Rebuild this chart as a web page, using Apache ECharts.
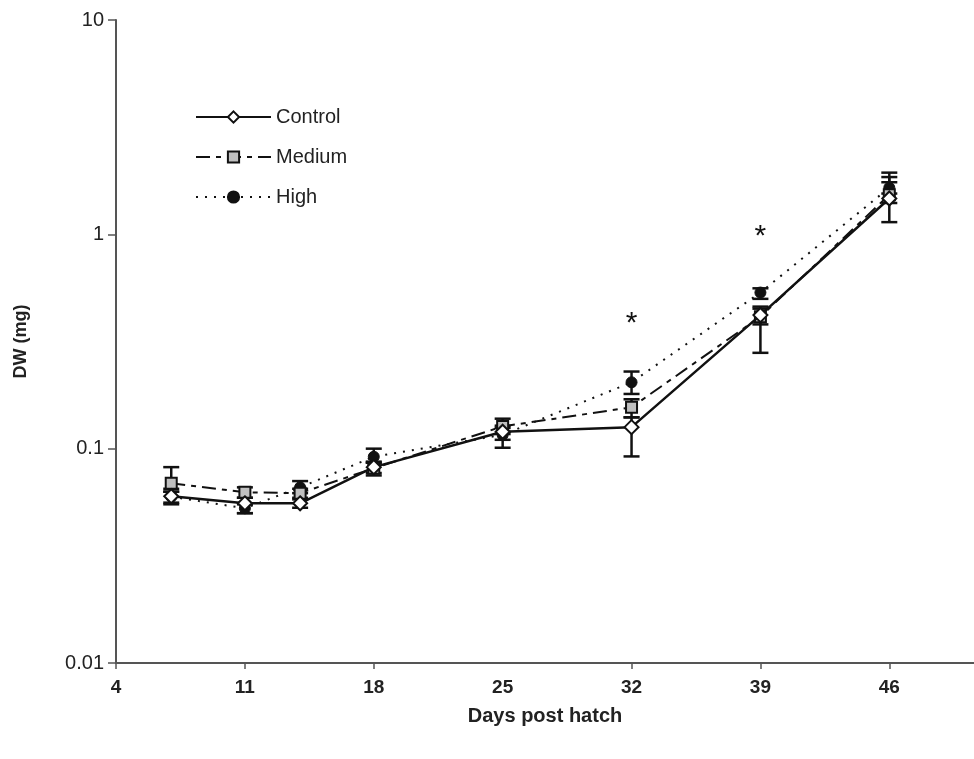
<!DOCTYPE html>
<html>
<head>
<meta charset="utf-8">
<script src="https://cdn.jsdelivr.net/npm/echarts@6/dist/echarts.min.js"></script>
<style>
html,body{margin:0;padding:0;background:#fff;}
#chart{width:974px;height:759px;}
</style>
</head>
<body>
<div id="chart"></div>
<script>
const days = [7, 11, 14, 18, 25, 32, 39, 46];
const xTickLabels = [4, 11, 18, 25, 32, 39, 46];
const xTickMarks = [4, 11, 18, 32, 39, 46];
const yTickLabels = [0.01, 0.1, 1, 10];

const control = [0.060, 0.0556, 0.0556, 0.082, 0.120, 0.126, 0.42, 1.47];
const controlUpper = [0.063, 0.059, 0.058, 0.086, 0.128, 0.14, 0.46, 1.85];
const controlLower = [0.055, 0.050, 0.053, 0.075, 0.101, 0.092, 0.28, 1.14];

const medium = [0.069, 0.0626, 0.062, 0.081, 0.127, 0.156, 0.413, 1.53];
const mediumUpper = [0.082, 0.066, 0.065, 0.086, 0.138, 0.17, 0.45, 1.94];
const mediumLower = [0.065, 0.059, 0.059, 0.077, 0.117, 0.14, 0.38, 1.40];

const high = [0.0597, 0.0527, 0.066, 0.0917, 0.116, 0.204, 0.535, 1.65];
const highUpper = [0.063, 0.055, 0.0706, 0.100, 0.125, 0.229, 0.56, 1.75];
const highLower = [0.056, 0.050, 0.062, 0.087, 0.110, 0.18, 0.50, 1.55];

const starDays = [32, 39];
const starValues = [0.40, 1.02];

const ink = '#111';
const chart = echarts.init(document.getElementById('chart'));

function pairs(vals) { return days.map((d, i) => [d, vals[i]]); }
function errData(lo, hi) { return days.map((d, i) => [d, lo[i], hi[i]]); }
function errSeries(name, lo, hi) {
  return {
    type: 'custom',
    name: name + ' err',
    z: 1,
    silent: true,
    encode: { x: 0, y: [1, 2] },
    data: errData(lo, hi),
    renderItem: function (params, api) {
      const x = api.value(0);
      const a = api.coord([x, api.value(1)]);
      const b = api.coord([x, api.value(2)]);
      const w = 8;
      const st = { stroke: ink, lineWidth: 2.5 };
      return {
        type: 'group',
        children: [
          { type: 'line', shape: { x1: a[0], y1: a[1], x2: b[0], y2: b[1] }, style: st },
          { type: 'line', shape: { x1: a[0] - w, y1: a[1], x2: a[0] + w, y2: a[1] }, style: st },
          { type: 'line', shape: { x1: b[0] - w, y1: b[1], x2: b[0] + w, y2: b[1] }, style: st }
        ]
      };
    }
  };
}

function starSeries() {
  return {
    type: 'custom',
    name: 'stars',
    z: 6,
    silent: true,
    encode: { x: 0, y: 1 },
    data: starDays.map((d, i) => [d, starValues[i]]),
    renderItem: function (params, api) {
      const p = api.coord([api.value(0), api.value(1)]);
      return {
        type: 'text',
        x: p[0], y: p[1] + 4,
        style: { text: '*', fontSize: 30, fill: ink, align: 'center', verticalAlign: 'middle', fontFamily: 'Liberation Sans, Arial, sans-serif' }
      };
    }
  };
}

const option = {
  backgroundColor: '#fff',
  animation: false,
  textStyle: { fontFamily: 'Liberation Sans, Arial, sans-serif' },
  grid: { left: 116, right: 0, top: 20, bottom: 96, containLabel: false },
  legend: {
    data: ['Control', 'Medium', 'High'],
    orient: 'vertical',
    left: 195,
    top: 107,
    padding: 0,
    itemWidth: 75,
    itemHeight: 14,
    itemGap: 20,
    textStyle: { fontSize: 20, color: '#222', fontFamily: 'Liberation Sans, Arial, sans-serif' }
  },
  xAxis: {
    type: 'value',
    min: 4,
    max: 50.6,
    interval: 7,
    name: 'Days post hatch',
    nameLocation: 'middle',
    nameGap: 43,
    nameTextStyle: { fontSize: 20, fontWeight: 'bold', color: '#222', fontFamily: 'Liberation Sans Narrow, Liberation Sans, Arial, sans-serif' },
    axisLine: { lineStyle: { color: '#555', width: 2 } },
    axisTick: { show: true, length: 6, lineStyle: { color: '#555', width: 1.5 }, customValues: xTickMarks },
    axisLabel: { customValues: xTickLabels, margin: 15, fontSize: 19, color: '#222', fontWeight: 'bold', fontFamily: 'Liberation Sans Narrow, Liberation Sans, Arial, sans-serif' },
    splitLine: { show: false }
  },
  yAxis: {
    type: 'log',
    logBase: 10,
    min: 0.01,
    max: 10,
    name: 'DW (mg)',
    nameLocation: 'middle',
    nameGap: 86,
    nameRotate: 90,
    nameTextStyle: { fontSize: 18, fontWeight: 'bold', color: '#222' },
    axisLine: { show: true, lineStyle: { color: '#555', width: 2 } },
    axisTick: { show: true, length: 8, lineStyle: { color: '#555', width: 1.5 } },
    minorTick: { show: false },
    axisLabel: {
      margin: 12, fontSize: 20, color: '#222',
      customValues: yTickLabels,
      formatter: function (v) { return String(+v.toPrecision(3)); }
    },
    splitLine: { show: false }
  },
  series: [
    errSeries('Control', controlLower, controlUpper),
    errSeries('Medium', mediumLower, mediumUpper),
    errSeries('High', highLower, highUpper),
    {
      name: 'High', type: 'line', z: 3, data: pairs(high),
      symbol: 'circle', symbolSize: 11,
      itemStyle: { color: ink, borderColor: ink, borderWidth: 1 },
      lineStyle: { color: ink, width: 2, type: [2, 7] }
    },
    {
      name: 'Medium', type: 'line', z: 4, data: pairs(medium),
      symbol: 'rect', symbolSize: 11,
      itemStyle: { color: '#c0c0c0', borderColor: ink, borderWidth: 2 },
      lineStyle: { color: ink, width: 2, type: [14, 6, 5, 6] }
    },
    {
      name: 'Control', type: 'line', z: 5, data: pairs(control),
      symbol: 'diamond', symbolSize: 14,
      itemStyle: { color: '#fff', borderColor: ink, borderWidth: 2 },
      lineStyle: { color: ink, width: 2.5, type: 'solid' }
    },
    starSeries()
  ]
};
chart.setOption(option);
</script>
</body>
</html>
